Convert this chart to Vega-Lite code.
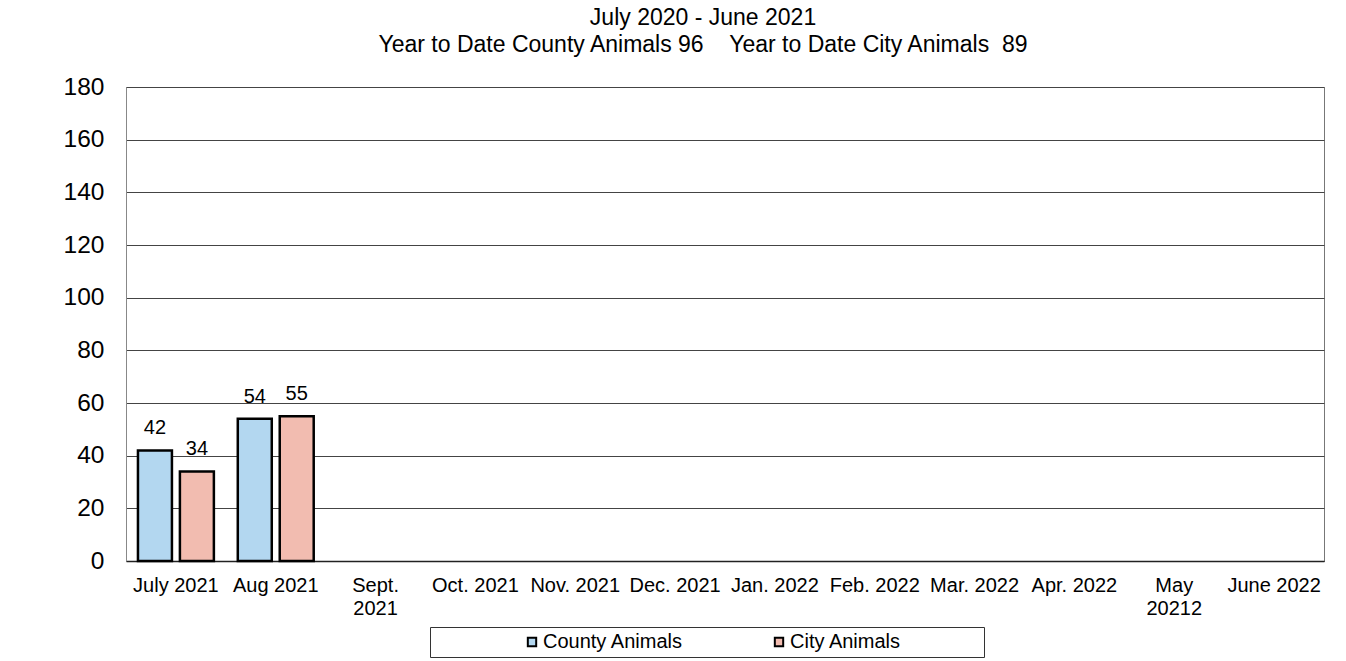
{
  "$schema": "https://vega.github.io/schema/vega-lite/v6.json",
  "width": 1198,
  "height": 474,
  "autosize": {"type": "none"},
  "padding": {"left": 126, "top": 87, "right": 22, "bottom": 100},
  "background": "white",
  "config": {
    "font": "Liberation Sans",
    "view": {"stroke": "#777", "strokeWidth": 1}
  },
  "title": {
    "text": ["July 2020 - June 2021", "Year to Date County Animals 96\u00a0\u00a0\u00a0\u00a0Year to Date City Animals\u00a0\u00a089"],
    "font": "Liberation Sans",
    "fontSize": 23,
    "fontWeight": "normal",
    "color": "black",
    "anchor": "middle",
    "frame": "group",
    "dx": -22,
    "offset": 17,
    "lineHeight": 27
  },
  "data": {
    "values": [
      {"month": "July 2021", "series": "County Animals", "value": 42},
      {"month": "July 2021", "series": "City Animals", "value": 34},
      {"month": "Aug 2021", "series": "County Animals", "value": 54},
      {"month": "Aug 2021", "series": "City Animals", "value": 55}
    ]
  },
  "encoding": {
    "x": {
      "field": "month",
      "type": "nominal",
      "sort": null,
      "scale": {
        "domain": ["July 2021", "Aug 2021", "Sept. 2021", "Oct. 2021", "Nov. 2021", "Dec. 2021", "Jan. 2022", "Feb. 2022", "Mar. 2022", "Apr. 2022", "May 20212", "June 2022"],
        "paddingInner": 0,
        "paddingOuter": 0
      },
      "axis": {
        "title": null,
        "labelAngle": 0,
        "labelFontSize": 20,
        "labelColor": "black",
        "labelPadding": 14,
        "labelLineHeight": 23,
        "ticks": false,
        "domainColor": "#222",
        "domainWidth": 1.5,
        "labelExpr": "indexof(['Sept. 2021','May 20212'], datum.label) >= 0 ? split(datum.label, ' ') : datum.label"
      }
    },
    "xOffset": {
      "field": "series",
      "scale": {"domain": ["County Animals", "City Animals"], "paddingInner": 0.19, "paddingOuter": 0.285}
    },
    "y": {
      "field": "value",
      "type": "quantitative",
      "scale": {"domain": [0, 180]},
      "axis": {
        "title": null,
        "values": [0, 20, 40, 60, 80, 100, 120, 140, 160, 180],
        "grid": true,
        "gridColor": "#444",
        "gridWidth": 1,
        "gridOpacity": 1,
        "ticks": false,
        "domainColor": "#888",
        "labelFontSize": 24.5,
        "labelColor": "black",
        "labelPadding": 22
      }
    }
  },
  "layer": [
    {
      "mark": {"type": "bar", "stroke": "black", "strokeWidth": 2.5},
      "encoding": {
        "color": {
          "field": "series",
          "type": "nominal",
          "scale": {"domain": ["County Animals", "City Animals"], "range": ["#b3d7f0", "#f2bcb0"]},
          "legend": {
            "title": "\u00a0",
            "titleOrient": "left",
            "titlePadding": 87,
            "titleFontSize": 20,
            "orient": "none",
            "legendX": 304,
            "legendY": 540,
            "direction": "horizontal",
            "strokeColor": "#333",
            "padding": 5,
            "symbolType": "square",
            "symbolSize": 70,
            "symbolStrokeColor": "black",
            "symbolStrokeWidth": 2,
            "labelFontSize": 20,
            "labelColor": "black",
            "labelOffset": 1,
            "labelLimit": 400,
            "columnPadding": 85,
            "labelExpr": "datum.label == 'City Animals' ? datum.label + '\u00a0\u00a0\u00a0\u00a0\u00a0\u00a0\u00a0\u00a0\u00a0\u00a0\u00a0\u00a0\u00a0\u00a0\u200b' : datum.label"
          }
        }
      }
    },
    {
      "mark": {"type": "text", "baseline": "alphabetic", "dy": -16, "fontSize": 20, "color": "black"},
      "encoding": {
        "text": {"field": "value", "type": "quantitative"}
      }
    }
  ]
}
